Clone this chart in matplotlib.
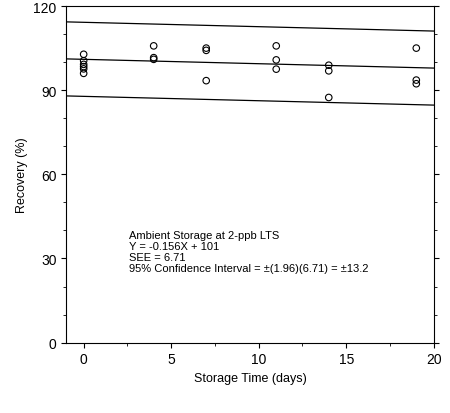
import numpy as np
import matplotlib.pyplot as plt

days = [0, 0, 0, 0, 0, 0, 4, 4, 4, 7, 7, 7, 11, 11, 11, 14, 14, 14, 19, 19, 19]
recovery = [102.8, 100.5, 99.2, 98.4, 97.6, 96.0, 105.8, 101.6, 101.0,
            105.0, 104.2, 93.4, 105.8, 100.8, 97.5, 98.9, 96.9, 87.4,
            105.0, 93.6, 92.3]
slope, intercept, ci = -0.156, 101, 13.2

plt.rcParams['font.family'] = ['Liberation Sans', 'DejaVu Sans']
fig, ax = plt.subplots(figsize=(4.5, 4.14), dpi=100)
fig.subplots_adjust(left=0.147, right=0.964, bottom=0.17, top=0.983)

ax.scatter(days, recovery, s=22, facecolors='none', edgecolors='black', linewidths=0.8)
xs = np.array([-1, 20])
for off in (-ci, 0, ci):
    ax.plot(xs, intercept + slope * xs + off, color='black', lw=0.9)

ax.set_xlim(-1, 20)
ax.set_ylim(0, 120)
ax.set_xticks([0, 5, 10, 15, 20])
ax.set_yticks([0, 30, 60, 90, 120])
ax.set_yticks(np.arange(0, 121, 10), minor=True)
ax.set_xticks(np.arange(0, 21, 2.5), minor=True)
ax.tick_params(which='both', direction='out', right=True, top=False, labelsize=10)
ax.set_xlabel('Storage Time (days)', fontsize=9)
ax.set_ylabel('Recovery (%)', fontsize=9)

txt = ('Ambient Storage at 2-ppb LTS\nY = -0.156X + 101\nSEE = 6.71\n'
       '95% Confidence Interval = \u00b1(1.96)(6.71) = \u00b113.2')
ax.text(2.6, 40, txt, fontsize=8, va='top', linespacing=1.1)

fig.savefig('out.png')
